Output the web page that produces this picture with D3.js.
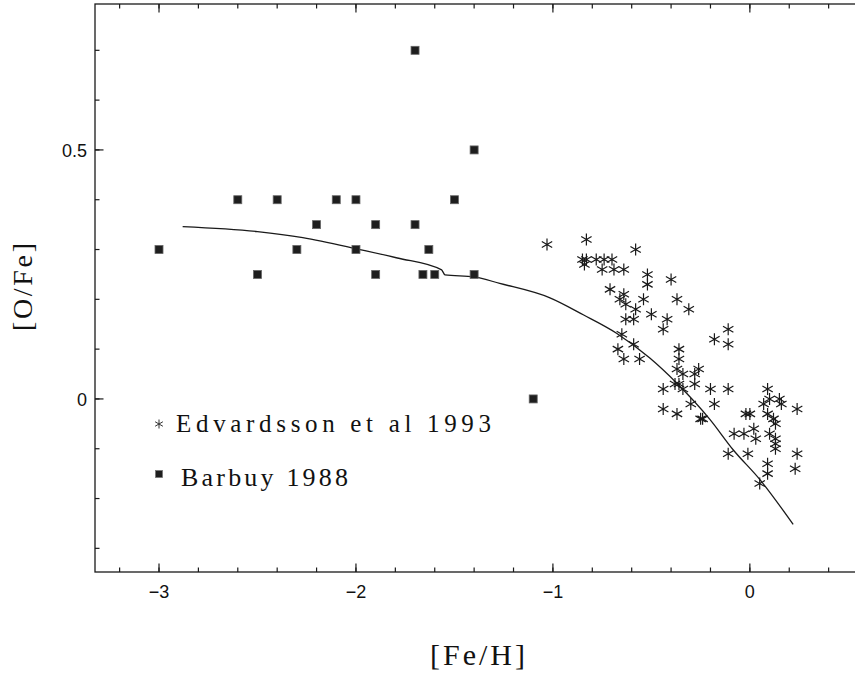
<!DOCTYPE html>
<html>
<head>
<meta charset="utf-8">
<script src="https://cdn.jsdelivr.net/npm/d3@7"></script>
<style>
  body { margin: 0; background: #fff; }
  text { fill: #111; }
</style>
</head>
<body>
<div id="chart"></div>
<script>
// Barbuy 1988 (squares)
var barbuyFeH = [-1.7, -1.4, -2.6, -2.4, -2.1, -2.0, -1.5, -2.2, -1.9, -1.7,
                 -3.0, -2.3, -2.0, -1.63, -2.5, -1.9, -1.66, -1.6, -1.4, -1.1];
var barbuyOFe = [0.70, 0.50, 0.40, 0.40, 0.40, 0.40, 0.40, 0.35, 0.35, 0.35,
                 0.30, 0.30, 0.30, 0.30, 0.25, 0.25, 0.25, 0.25, 0.25, 0.00];

// Edvardsson et al 1993 (asterisks)
var edvFeH = [-1.03, -0.83, -0.58, -0.85, -0.83, -0.78, -0.74, -0.70, -0.84, -0.75,
              -0.69, -0.64, -0.52, -0.52, -0.40, -0.71, -0.64, -0.66, -0.54, -0.37,
              -0.63, -0.58, -0.31, -0.50, -0.63, -0.59, -0.42, -0.44, -0.65, -0.59,
              -0.67, -0.64, -0.56, -0.11, -0.18, -0.11, -0.36, -0.36, -0.37, -0.26,
              -0.34, -0.28, -0.38, -0.36, -0.28, -0.44, -0.34, -0.20, -0.11, 0.09,
              -0.30, -0.18, -0.44, -0.37, 0.07, 0.10, 0.15, 0.16, 0.24, -0.02,
              0.00, 0.09, -0.25, -0.24, 0.12, 0.13, 0.02, -0.08, -0.03, 0.10,
              0.03, 0.13, 0.13, 0.13, -0.11, -0.01, 0.24, 0.09, 0.09, 0.23, 0.05];
var edvOFe = [0.31, 0.32, 0.30, 0.28, 0.28, 0.28, 0.28, 0.28, 0.27, 0.26,
              0.26, 0.26, 0.25, 0.23, 0.24, 0.22, 0.21, 0.20, 0.20, 0.20,
              0.19, 0.18, 0.18, 0.17, 0.16, 0.16, 0.16, 0.14, 0.13, 0.11,
              0.10, 0.08, 0.08, 0.14, 0.12, 0.11, 0.10, 0.08, 0.06, 0.06,
              0.05, 0.05, 0.03, 0.03, 0.03, 0.02, 0.02, 0.02, 0.02, 0.02,
              -0.01, -0.01, -0.02, -0.03, -0.01, 0.00, 0.00, -0.01, -0.02, -0.03,
              -0.03, -0.03, -0.04, -0.04, -0.04, -0.05, -0.06, -0.07, -0.07, -0.07,
              -0.08, -0.08, -0.09, -0.10, -0.11, -0.11, -0.11, -0.13, -0.15, -0.14, -0.17];

// model curve
var modelFeH = [-2.88, -2.50, -2.27, -1.98, -1.79, -1.565, -1.548, -1.40, -1.27,
                -1.015, -0.846, -0.677, -0.508, -0.372, -0.203, -0.085, 0.051, 0.22];
var modelOFe = [0.346, 0.336, 0.324, 0.300, 0.283, 0.259, 0.249, 0.245, 0.232,
                0.203, 0.169, 0.132, 0.082, 0.032, -0.041, -0.102, -0.162, -0.252];

var xMajor = [-3, -2, -1, 0];
var xMinor = d3.range(-16, 4).map(function(i) { return i * 0.2; });
var yMajor = [0, 0.5];
var yMinor = d3.range(-3, 8).map(function(i) { return i * 0.1; });

var legendLabels = ["Edvardsson et al 1993", "Barbuy 1988"];

var fullWidth = 855, fullHeight = 675;
var plotLeft = 95, plotRight = 870, plotTop = 4, plotBottom = 572;

var svg = d3.select("#chart").append("svg")
  .attr("width", fullWidth)
  .attr("height", fullHeight);

var xScale = d3.scaleLinear().domain([-3.325, 0.61]).range([plotLeft, plotRight]);
var yScale = d3.scaleLinear().domain([-0.3475, 0.793]).range([plotBottom, plotTop]);

var ink = "#1a1a1a";
var serif = "Liberation Serif, Times New Roman, serif";
var sans = "Liberation Sans, Arial, sans-serif";

// frame
svg.append("rect")
  .attr("x", plotLeft).attr("y", plotTop)
  .attr("width", plotRight - plotLeft).attr("height", plotBottom - plotTop)
  .attr("fill", "none").attr("stroke", ink).attr("stroke-width", 1.3);

// x ticks, bottom and top
function xTicks(vals, len) {
  svg.append("g").selectAll("line").data(vals).enter().append("line")
    .attr("x1", xScale).attr("x2", xScale)
    .attr("y1", plotBottom).attr("y2", plotBottom - len)
    .attr("stroke", ink).attr("stroke-width", 1.2);
  svg.append("g").selectAll("line").data(vals).enter().append("line")
    .attr("x1", xScale).attr("x2", xScale)
    .attr("y1", plotTop).attr("y2", plotTop + len)
    .attr("stroke", ink).attr("stroke-width", 1.2);
}
xTicks(xMinor, 4.5);
xTicks(xMajor, 8.5);

function yTicks(vals, len) {
  svg.append("g").selectAll("line").data(vals).enter().append("line")
    .attr("x1", plotLeft).attr("x2", plotLeft + len)
    .attr("y1", yScale).attr("y2", yScale)
    .attr("stroke", ink).attr("stroke-width", 1.2);
  svg.append("g").selectAll("line").data(vals).enter().append("line")
    .attr("x1", plotRight).attr("x2", plotRight - len)
    .attr("y1", yScale).attr("y2", yScale)
    .attr("stroke", ink).attr("stroke-width", 1.2);
}
yTicks(yMinor, 4.5);
yTicks(yMajor, 8.5);

// tick labels
svg.append("g").selectAll("text").data(xMajor).enter().append("text")
  .attr("x", xScale).attr("y", 598)
  .attr("text-anchor", "middle")
  .attr("font-family", sans)
  .attr("font-size", 18)
  .text(function(d) { return d === 0 ? "0" : "\u2212" + Math.abs(d); });

svg.append("g").selectAll("text").data(yMajor).enter().append("text")
  .attr("x", 87).attr("y", function(d) { return yScale(d) + 7; })
  .attr("text-anchor", "end")
  .attr("font-family", sans)
  .attr("font-size", 18)
  .text(function(d) { return d === 0 ? "0" : d3.format(".1f")(d); });

// axis titles
svg.append("text")
  .attr("x", 430).attr("y", 665)
  .attr("font-family", serif)
  .attr("font-size", 30)
  .attr("textLength", 95).attr("lengthAdjust", "spacing")
  .text("[Fe/H]");

svg.append("text")
  .attr("transform", "translate(32,331) rotate(-90)")
  .attr("font-family", serif)
  .attr("font-size", 28)
  .attr("textLength", 88).attr("lengthAdjust", "spacing")
  .text("[O/Fe]");

// model line
var line = d3.line()
  .x(function(d) { return xScale(d[0]); })
  .y(function(d) { return yScale(d[1]); })
  .curve(d3.curveMonotoneX);

svg.append("path")
  .datum(d3.zip(modelFeH, modelOFe))
  .attr("d", line)
  .attr("fill", "none")
  .attr("stroke", ink)
  .attr("stroke-width", 1.3);

// asterisk symbol path
function asterisk(r) {
  var p = "M0," + (-r) + "L0," + r;
  [30, 150].forEach(function(a) {
    var dx = r * Math.cos(a * Math.PI / 180), dy = r * Math.sin(a * Math.PI / 180);
    p += "M" + (-dx) + "," + (-dy) + "L" + dx + "," + dy;
  });
  return p;
}

svg.append("g").selectAll("path").data(d3.zip(edvFeH, edvOFe)).enter().append("path")
  .attr("transform", function(d) { return "translate(" + xScale(d[0]) + "," + yScale(d[1]) + ")"; })
  .attr("d", asterisk(6))
  .attr("stroke", "#1a1a1a").attr("stroke-width", 1.2).attr("fill", "none");

svg.append("g").selectAll("rect").data(d3.zip(barbuyFeH, barbuyOFe)).enter().append("rect")
  .attr("x", function(d) { return xScale(d[0]) - 4; })
  .attr("y", function(d) { return yScale(d[1]) - 4; })
  .attr("width", 8).attr("height", 8)
  .attr("fill", "#1e1e1e").attr("stroke", "#666").attr("stroke-width", 0.8);

// legend
svg.append("path")
  .attr("transform", "translate(159,424)")
  .attr("d", asterisk(4.5))
  .attr("stroke", "#333").attr("stroke-width", 1).attr("fill", "none");
svg.append("text")
  .attr("x", 176).attr("y", 432)
  .attr("font-family", serif)
  .attr("font-size", 25)
  .attr("textLength", 315).attr("lengthAdjust", "spacing")
  .text(legendLabels[0]);

svg.append("rect")
  .attr("x", 155.5).attr("y", 470.5).attr("width", 7).attr("height", 7)
  .attr("fill", "#1e1e1e").attr("stroke", "#777").attr("stroke-width", 0.8);
svg.append("text")
  .attr("x", 181).attr("y", 486)
  .attr("font-family", serif)
  .attr("font-size", 26)
  .attr("textLength", 167).attr("lengthAdjust", "spacing")
  .text(legendLabels[1]);
</script>
</body>
</html>
